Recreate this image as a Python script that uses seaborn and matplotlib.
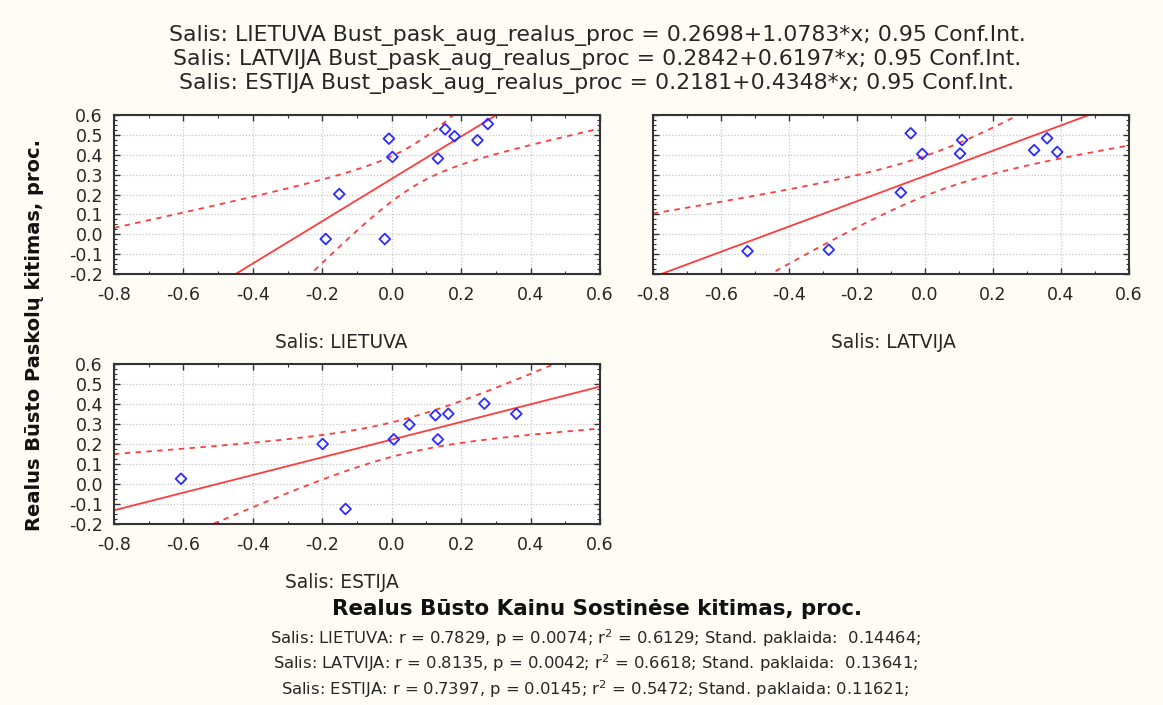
import numpy as np
import pandas as pd
import matplotlib
matplotlib.use("Agg")
import matplotlib.pyplot as plt
import seaborn as sns
from matplotlib.ticker import MultipleLocator, FormatStrFormatter

# ---- data ----
lt_x = [-0.190, -0.151, -0.008, 0.002, -0.020, 0.133, 0.154, 0.181, 0.247, 0.277]
lt_y = [-0.024, 0.202, 0.481, 0.389, -0.024, 0.381, 0.528, 0.493, 0.473, 0.555]
lv_x = [-0.522, -0.283, -0.071, -0.042, -0.008, 0.103, 0.109, 0.321, 0.359, 0.389]
lv_y = [-0.085, -0.078, 0.210, 0.508, 0.404, 0.406, 0.474, 0.423, 0.483, 0.414]
ee_x = [-0.607, -0.199, -0.133, 0.006, 0.051, 0.126, 0.133, 0.163, 0.267, 0.359]
ee_y = [0.026, 0.200, -0.125, 0.223, 0.297, 0.344, 0.223, 0.351, 0.402, 0.351]

countries = ["LIETUVA", "LATVIJA", "ESTIJA"]
title_lines = [
    "Salis: LIETUVA Bust_pask_aug_realus_proc = 0.2698+1.0783*x; 0.95 Conf.Int.",
    "Salis: LATVIJA Bust_pask_aug_realus_proc = 0.2842+0.6197*x; 0.95 Conf.Int.",
    "Salis: ESTIJA Bust_pask_aug_realus_proc = 0.2181+0.4348*x; 0.95 Conf.Int.",
]
stat_lines = [
    "Salis: LIETUVA: r = 0.7829, p = 0.0074; r$^2$ = 0.6129; Stand. paklaida:  0.14464;",
    "Salis: LATVIJA: r = 0.8135, p = 0.0042; r$^2$ = 0.6618; Stand. paklaida:  0.13641;",
    "Salis: ESTIJA: r = 0.7397, p = 0.0145; r$^2$ = 0.5472; Stand. paklaida: 0.11621;",
]
xlabel = "Realus Būsto Kainu Sostinėse kitimas, proc."
ylabel = "Realus Būsto Paskolų kitimas, proc."
T_CRIT = 2.306  # t(0.975, df=8)

sns.set_theme(style="white")
plt.rcParams["font.family"] = ["DejaVu Sans"]
plt.rcParams["axes.unicode_minus"] = False

BG = "#fffcf6"
RED = "#ff3c3c"
BLUE = "#2b2bff"
TXT = "#262626"

W, H = 1163, 705
fig = plt.figure(figsize=(W / 100, H / 100), dpi=100, facecolor=BG)

def rect(l, t, r, b):
    return [l / W, 1 - b / H, (r - l) / W, (b - t) / H]

ax1 = fig.add_axes(rect(114, 115, 600, 274))
ax2 = fig.add_axes(rect(653, 115, 1129, 274))
ax3 = fig.add_axes(rect(114, 364, 600, 524))

panels = [(ax1, lt_x, lt_y, True), (ax2, lv_x, lv_y, False), (ax3, ee_x, ee_y, True)]

for ax, xs, ys, ylab in panels:
    ax.set_facecolor("white")
    ax.set_xlim(-0.8, 0.6)
    ax.set_ylim(-0.2, 0.6)
    df = pd.DataFrame({"x": xs, "y": ys})
    x = np.asarray(xs); y = np.asarray(ys)
    n = len(x)
    b, a = np.polyfit(x, y, 1)
    xx = np.linspace(-0.8, 0.6, 200)
    yy = a + b * xx
    resid = y - (a + b * x)
    s = np.sqrt(np.sum(resid ** 2) / (n - 2))
    sxx = np.sum((x - x.mean()) ** 2)
    half = T_CRIT * s * np.sqrt(1 / n + (xx - x.mean()) ** 2 / sxx)
    line = pd.DataFrame({"x": xx, "fit": yy, "lo": yy - half, "hi": yy + half})
    sns.lineplot(data=line, x="x", y="fit", ax=ax, color=RED, lw=1.3)
    sns.lineplot(data=line, x="x", y="lo", ax=ax, color=RED, lw=1.3, linestyle=(0, (3, 3)))
    sns.lineplot(data=line, x="x", y="hi", ax=ax, color=RED, lw=1.3, linestyle=(0, (3, 3)))
    ax.scatter(df["x"], df["y"], marker="D", s=30, facecolors="none",
               edgecolors=BLUE, linewidths=1.3, zorder=5)
    ax.set_xlim(-0.8, 0.6)
    ax.set_ylim(-0.2, 0.6)
    ax.xaxis.set_major_locator(MultipleLocator(0.2))
    ax.xaxis.set_minor_locator(MultipleLocator(0.1))
    ax.yaxis.set_major_locator(MultipleLocator(0.1))
    ax.yaxis.set_minor_locator(MultipleLocator(0.025))
    ax.xaxis.set_major_formatter(FormatStrFormatter("%.1f"))
    ax.yaxis.set_major_formatter(FormatStrFormatter("%.1f"))
    ax.grid(True, which="major", color="#c8c8c8", linestyle=(0, (1, 1.5)), lw=0.9)
    ax.tick_params(which="both", direction="in", top=True, right=True, left=True, bottom=True,
                   color="#333333", labelsize=12.5, labelcolor=TXT)
    ax.tick_params(which="major", length=4, width=1)
    ax.tick_params(which="minor", length=2.5, width=0.8)
    ax.tick_params(axis="x", pad=9)
    ax.tick_params(axis="y", pad=8)
    if not ylab:
        ax.tick_params(axis="y", labelleft=False)
    for sp in ax.spines.values():
        sp.set_color("#333333")
        sp.set_linewidth(1.5)
    ax.set_xlabel("")
    ax.set_ylabel("")

for i, t in enumerate(title_lines):
    fig.text(597 / W, 1 - (36 + 24 * i) / H, t, ha="center", va="center",
             fontsize=15.8, color=TXT)

fig.text(341 / W, 1 - 342 / H, "Salis: " + countries[0], ha="center", va="center",
         fontsize=13.4, color=TXT)
fig.text(893 / W, 1 - 342 / H, "Salis: " + countries[1], ha="center", va="center",
         fontsize=13.4, color=TXT)
fig.text(342 / W, 1 - 583 / H, "Salis: " + countries[2], ha="center", va="center",
         fontsize=13.4, color=TXT)

fig.text(597 / W, 1 - 609 / H, xlabel, ha="center", va="center",
         fontsize=15.4, fontweight="bold", color="#111111")
fig.text(35 / W, 1 - 335 / H, ylabel, ha="center", va="center", rotation=90,
         fontsize=14, fontweight="bold", color="#111111")

for i, t in enumerate(stat_lines):
    fig.text(595 / W, 1 - (638 + 25.5 * i) / H, t, ha="center", va="center",
             fontsize=11.8, color=TXT)

fig.savefig("out.png", dpi=100, facecolor=BG)
